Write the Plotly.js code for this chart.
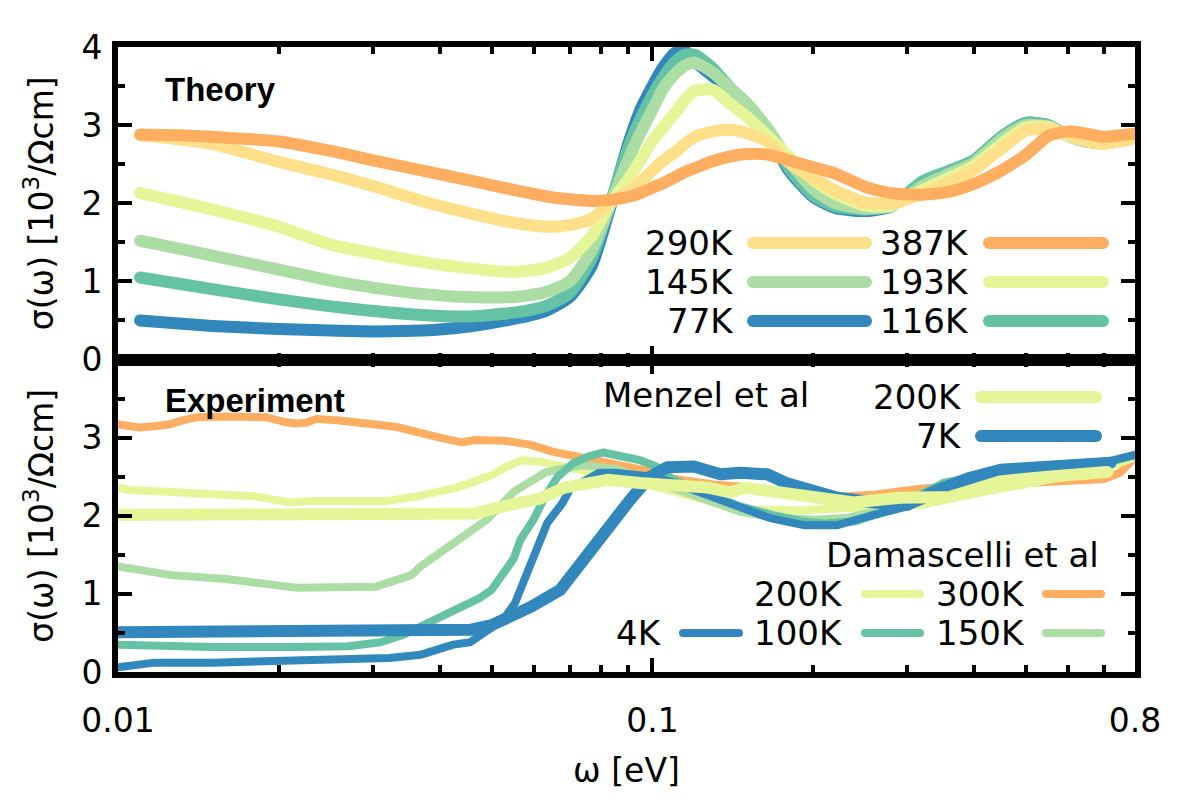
<!DOCTYPE html>
<html><head><meta charset="utf-8">
<script src="https://cdn.plot.ly/plotly-3.0.1.min.js"></script>
<style>
html,body{margin:0;padding:0;background:#fff;}
.scatterlayer .js-line{stroke-linecap:round;stroke-linejoin:round;}
.shapelayer path{stroke-linecap:round;}
</style></head><body><div id="chart" style="width:1200px;height:800px;"></div>
<script>
// ---------- DATA ----------
// Theory (top panel)
const wT = [0.011,0.013,0.015,0.02,0.025,0.03,0.037,0.045,0.055,0.063,0.07,0.077,0.083,0.09,0.095,0.1,0.105,0.11,0.115,0.12,0.13,0.14,0.15,0.165,0.18,0.2,0.22,0.25,0.28,0.32,0.36,0.4,0.45,0.5,0.55,0.6,0.65,0.7,0.75,0.8];
const t77  = [0.50,0.46,0.43,0.39,0.37,0.36,0.37,0.42,0.52,0.62,0.80,1.20,1.90,2.75,3.20,3.50,3.75,3.92,3.95,3.82,3.62,3.45,3.26,2.88,2.42,2.08,1.94,1.90,1.96,2.26,2.41,2.55,2.85,3.03,3.00,2.86,2.79,2.77,2.80,2.85];
const t116 = [1.05,0.97,0.90,0.77,0.68,0.62,0.57,0.55,0.60,0.68,0.85,1.30,1.95,2.70,3.08,3.38,3.62,3.80,3.90,3.90,3.72,3.47,3.28,2.92,2.45,2.10,1.96,1.92,1.97,2.28,2.42,2.55,2.85,3.03,3.00,2.86,2.79,2.77,2.80,2.85];
const t145 = [1.52,1.42,1.33,1.15,1.01,0.92,0.84,0.80,0.80,0.86,1.00,1.40,1.95,2.55,2.90,3.20,3.48,3.65,3.76,3.80,3.67,3.47,3.28,2.94,2.55,2.18,2.00,1.93,1.96,2.22,2.38,2.52,2.82,3.00,2.98,2.86,2.80,2.78,2.80,2.84];
const t193 = [2.13,2.02,1.92,1.70,1.47,1.36,1.25,1.17,1.12,1.17,1.30,1.58,1.98,2.30,2.55,2.80,2.98,3.15,3.32,3.44,3.45,3.27,3.11,2.85,2.60,2.30,2.12,1.97,1.97,2.17,2.33,2.48,2.76,2.97,2.98,2.86,2.80,2.78,2.80,2.84];
const t290 = [2.87,2.82,2.76,2.53,2.37,2.22,2.03,1.88,1.75,1.70,1.72,1.80,2.00,2.15,2.27,2.42,2.55,2.65,2.76,2.85,2.92,2.94,2.90,2.78,2.52,2.32,2.16,2.01,2.00,2.12,2.27,2.43,2.70,2.93,2.95,2.88,2.79,2.76,2.79,2.83];
const t387 = [2.88,2.87,2.85,2.79,2.67,2.55,2.42,2.30,2.17,2.09,2.05,2.03,2.04,2.08,2.13,2.20,2.26,2.33,2.40,2.45,2.54,2.60,2.63,2.62,2.55,2.46,2.38,2.21,2.13,2.11,2.15,2.25,2.42,2.62,2.86,2.92,2.89,2.85,2.87,2.89];
const theoryLabels = ['77K','116K','145K','193K','290K','387K'];

// Experiment (bottom panel) - Damascelli et al
const dam300W = [0.01,0.0105,0.011,0.0118,0.0125,0.0132,0.014,0.016,0.019,0.0205,0.0215,0.0225,0.0235,0.026,0.033,0.04,0.044,0.0465,0.053,0.059,0.065,0.072,0.082,0.09,0.1,0.11,0.13,0.155,0.18,0.22,0.26,0.32,0.45,0.6,0.7,0.75,0.8];
const dam300V = [3.17,3.14,3.13,3.15,3.17,3.22,3.26,3.27,3.26,3.20,3.18,3.19,3.24,3.22,3.14,3.00,2.94,2.97,2.96,2.91,2.82,2.76,2.69,2.62,2.56,2.47,2.40,2.36,2.29,2.24,2.27,2.35,2.40,2.44,2.47,2.55,2.75];
const dam200W = [0.01,0.0105,0.012,0.015,0.018,0.021,0.023,0.027,0.032,0.037,0.043,0.047,0.05,0.053,0.057,0.062,0.07,0.082,0.095,0.11,0.13,0.146,0.19,0.24,0.32,0.4,0.5,0.6,0.7,0.8];
const dam200V = [2.36,2.33,2.31,2.29,2.25,2.17,2.19,2.19,2.19,2.26,2.36,2.45,2.52,2.62,2.71,2.69,2.62,2.53,2.42,2.31,2.18,2.08,2.07,2.10,2.14,2.28,2.40,2.50,2.60,2.75];
const dam150W = [0.01,0.011,0.0126,0.0159,0.0215,0.0303,0.0354,0.0368,0.0424,0.049,0.0551,0.0633,0.074,0.085,0.11,0.146,0.17,0.2,0.23,0.26,0.3,0.35,0.4,0.5,0.6,0.7,0.8];
const dam150V = [1.35,1.30,1.24,1.19,1.08,1.09,1.24,1.35,1.65,1.95,2.31,2.56,2.65,2.60,2.35,2.05,1.98,1.95,1.97,2.05,2.20,2.40,2.48,2.53,2.60,2.66,2.78];
const dam100W = [0.01,0.015,0.0215,0.027,0.031,0.034,0.0368,0.0424,0.0476,0.05,0.0526,0.055,0.0566,0.0599,0.0633,0.0665,0.071,0.076,0.081,0.088,0.0948,0.1018,0.1094,0.125,0.146,0.17,0.19,0.21,0.24,0.28,0.3,0.35,0.4,0.5,0.6,0.7,0.8];
const dam100V = [0.35,0.32,0.32,0.33,0.38,0.47,0.58,0.77,0.95,1.05,1.27,1.45,1.69,1.95,2.27,2.50,2.67,2.76,2.81,2.77,2.71,2.63,2.46,2.30,2.12,2.00,1.93,1.90,1.93,2.08,2.18,2.42,2.50,2.55,2.62,2.68,2.78];
const dam4W = [0.01,0.0117,0.015,0.019,0.0238,0.0322,0.0368,0.0424,0.0456,0.0503,0.0526,0.0553,0.057,0.0603,0.0636,0.068,0.07,0.0735,0.0795,0.085,0.1,0.11,0.125,0.146,0.166,0.192,0.222,0.256,0.3,0.35,0.4,0.5,0.6,0.7,0.8];
const dam4V = [0.06,0.12,0.12,0.14,0.14,0.18,0.22,0.35,0.38,0.56,0.67,0.88,1.09,1.53,1.91,2.17,2.33,2.42,2.55,2.55,2.50,2.42,2.28,2.10,1.97,1.88,1.88,2.00,2.12,2.30,2.45,2.55,2.62,2.68,2.78];
// Menzel et al
const men7W = [0.01,0.02,0.03,0.04,0.0456,0.05,0.0526,0.0591,0.0672,0.0734,0.0824,0.091,0.099,0.1066,0.1196,0.134,0.146,0.164,0.178,0.2,0.222,0.26,0.3,0.334,0.39,0.45,0.55,0.69,0.72];
const men7V = [0.51,0.51,0.51,0.51,0.54,0.60,0.67,0.83,1.05,1.40,1.82,2.21,2.50,2.62,2.63,2.53,2.55,2.53,2.42,2.31,2.23,2.17,2.14,2.30,2.48,2.59,2.64,2.69,2.68];
const men200W = [0.01,0.02,0.03,0.04,0.0466,0.0503,0.0576,0.0616,0.0685,0.0824,0.0948,0.109,0.127,0.14,0.15,0.16,0.178,0.2,0.238,0.29,0.36,0.447,0.55,0.71];
const men200V = [2.01,2.01,2.02,2.02,2.03,2.09,2.18,2.22,2.36,2.46,2.42,2.40,2.36,2.30,2.36,2.33,2.27,2.24,2.17,2.23,2.24,2.44,2.50,2.56];

const xMajorVals = [0.01,0.1,0.8];
const xMajorText = ['0.01','0.1','0.8'];
const xMinorVals = [0.02,0.03,0.04,0.05,0.06,0.07,0.08,0.09,0.2,0.3,0.4,0.5,0.6,0.7];
const yTopTicks = [0,1,2,3,4];
const yBotTicks = [0,1,2,3];
const yMinor = [0.5,1.5,2.5,3.5];

// ---------- STYLE ----------
const C = {blue:'#3288bd', teal:'#66c2a5', green:'#abdda4', lime:'#e6f598', sand:'#fee08b', orange:'#fdae61'};
const FONT = 'DejaVu Sans, sans-serif';
const PL = 118, PR = 1135, PT = 47, PB = 672; // plot area in pixels
const px = x => (x-PL)/(PR-PL);
const py = y => (PB-y)/(PB-PT);

const theoryY = [t77,t116,t145,t193,t290,t387];
const theoryC = [C.blue,C.teal,C.green,C.lime,C.sand,C.orange];

const traces = [];
theoryY.forEach((ys,i)=>{
  traces.push({x:wT, y:ys, xaxis:'x2', yaxis:'y', mode:'lines', name:theoryLabels[i],
    line:{color:theoryC[i], width:12, shape:'spline', smoothing:0.6}, hoverinfo:'skip'});
});
const expSeries = [
  {x:dam300W, y:dam300V, c:C.orange, w:8},
  {x:dam200W, y:dam200V, c:C.lime, w:8},
  {x:dam150W, y:dam150V, c:C.green, w:8},
  {x:dam100W, y:dam100V, c:C.teal, w:8},
  {x:dam4W, y:dam4V, c:C.blue, w:8},
  {x:men7W, y:men7V, c:C.blue, w:12},
  {x:men200W, y:men200V, c:C.lime, w:12}
];
expSeries.forEach(s=>{
  traces.push({x:s.x, y:s.y, xaxis:'x', yaxis:'y2', mode:'lines',
    line:{color:s.c, width:s.w}, hoverinfo:'skip'});
});

const axisCommon = {
  showline:true, linewidth:6, linecolor:'#000', mirror:'allticks',
  ticks:'inside', ticklen:14, tickwidth:4, tickcolor:'#000',
  showgrid:false, zeroline:false,
  tickfont:{family:FONT, size:33, color:'#000'}
};
const xCommon = Object.assign({}, axisCommon, {
  type:'log', range:[-2, Math.log10(0.8)], tickmode:'array', tickvals:xMajorVals, ticktext:xMajorText,
  minor:{tickmode:'array', tickvals:xMinorVals, ticks:'inside', ticklen:7, tickwidth:4, tickcolor:'#000', showgrid:false}
});
const yMinorObj = {tickmode:'array', tickvals:yMinor, ticks:'inside', ticklen:7, tickwidth:4, tickcolor:'#000', showgrid:false};
const yTitle = 'σ(ω) [10<sup>3</sup>/Ωcm]';

const annotations = [];
const shapes = [];
function legText(txt, xr, y, anchor){
  annotations.push({xref:'paper', yref:'paper', x:px(xr), y:py(y), text:txt, showarrow:false,
    xanchor:anchor||'right', yanchor:'middle', font:{family:FONT, size:34, color:'#000'}});
}
function legLine(x0,x1,y,color,w){
  shapes.push({type:'line', xref:'paper', yref:'paper', x0:px(x0), x1:px(x1), y0:py(y), y1:py(y),
    line:{color:color, width:w}});
}
// top legend
const topLeg = [
  {i:4, col:0, row:0},{i:5, col:1, row:0},
  {i:2, col:0, row:1},{i:3, col:1, row:1},
  {i:0, col:0, row:2},{i:1, col:1, row:2}
];
const topCols = [{tx:736, l0:753, l1:866},{tx:971, l0:989, l1:1103}];
const topRows = [243, 282, 321];
topLeg.forEach(e=>{
  const c = topCols[e.col], y = topRows[e.row];
  legText(theoryLabels[e.i], c.tx, y);
  legLine(c.l0, c.l1, y, theoryC[e.i], 12);
});
// Menzel legend
legText('Menzel et al', 601, 395, 'left');
legText('200K', 964, 397); legLine(981, 1096, 397, C.lime, 12);
legText('7K', 964, 436); legLine(981, 1096, 436, C.blue, 12);
// Damascelli legend
legText('Damascelli et al', 1101, 555);
legText('200K', 845, 594); legLine(865, 920, 594, C.lime, 8);
legText('300K', 1027, 594); legLine(1046, 1101, 594, C.orange, 8);
legText('4K', 664, 633); legLine(683, 739, 633, C.blue, 8);
legText('100K', 845, 633); legLine(865, 920, 633, C.teal, 8);
legText('150K', 1027, 633); legLine(1046, 1101, 633, C.green, 8);
// panel labels
annotations.push({xref:'paper', yref:'paper', x:px(163), y:py(89), text:'<b>Theory</b>', showarrow:false,
  xanchor:'left', yanchor:'middle', font:{family:'Liberation Sans, Arial, sans-serif', size:33, color:'#000'}});
annotations.push({xref:'paper', yref:'paper', x:px(163), y:py(400), text:'<b>Experiment</b>', showarrow:false,
  xanchor:'left', yanchor:'middle', font:{family:'Liberation Sans, Arial, sans-serif', size:33, color:'#000'}});

const layout = {
  width:1200, height:800, showlegend:false,
  paper_bgcolor:'#fff', plot_bgcolor:'#fff',
  margin:{l:PL, r:1200-PR, t:PT, b:800-PB},
  xaxis: Object.assign({}, xCommon, {anchor:'y2', domain:[0,1], ticklabelstandoff:14,
    title:{text:'ω [eV]', font:{family:FONT, size:33, color:'#000'}, standoff:22}}),
  xaxis2: Object.assign({}, xCommon, {anchor:'y', domain:[0,1], matches:'x', showticklabels:false}),
  yaxis: Object.assign({}, axisCommon, {anchor:'x2', domain:[0.5,1], range:[0,4], tickmode:'array', tickvals:yTopTicks,
    minor:yMinorObj, ticklabelstandoff:3,
    title:{text:yTitle, font:{family:FONT, size:33, color:'#000'}, standoff:20}}),
  yaxis2: Object.assign({}, axisCommon, {anchor:'x', domain:[0,0.5], range:[0,4], tickmode:'array', tickvals:yBotTicks,
    minor:yMinorObj, ticklabelstandoff:3,
    title:{text:yTitle, font:{family:FONT, size:33, color:'#000'}, standoff:20}}),
  annotations: annotations,
  shapes: shapes
};
Plotly.newPlot('chart', traces, layout, {staticPlot:true, displayModeBar:false});
</script></body></html>
